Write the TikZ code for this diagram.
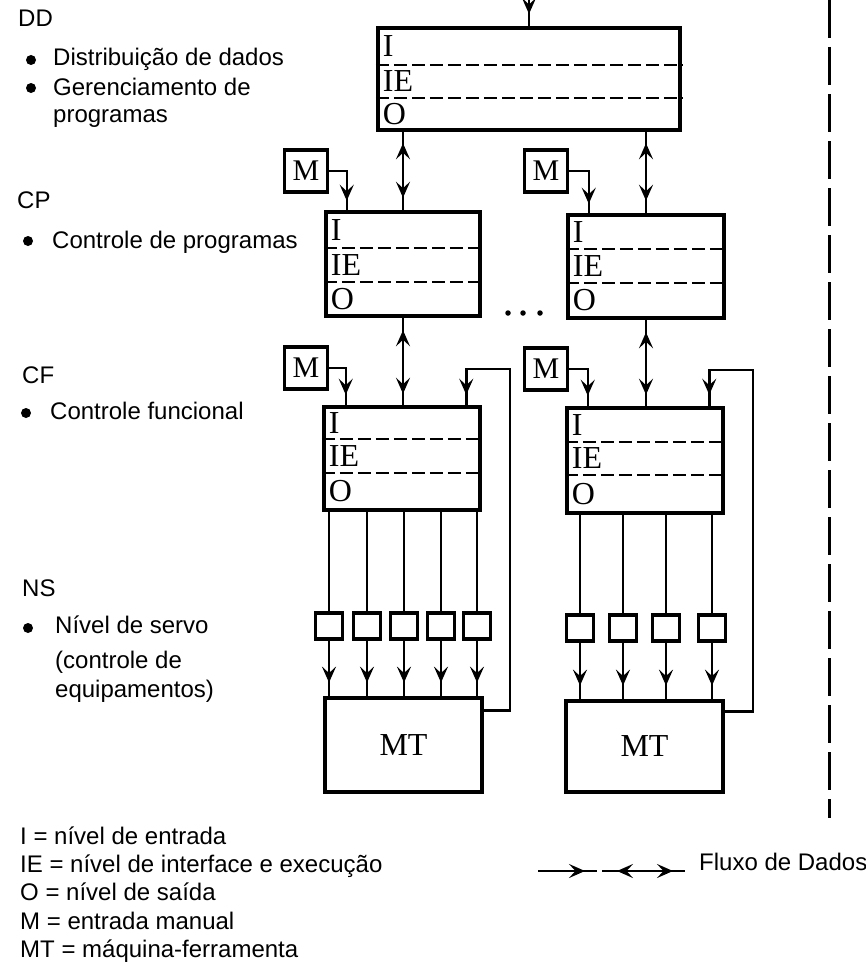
\documentclass[tikz,border=0pt]{standalone}
\usepackage{fontspec}
\setmainfont{Liberation Sans}
\newfontfamily\serifbox{Liberation Serif}
\usetikzlibrary{arrows.meta,decorations.markings,fit}

\tikzset{
  levelbox/.style={draw, line width=4.5pt, inner sep=0pt},
  rowdash/.style={line width=2.4pt, dash pattern=on 13pt off 5pt},
  lvl/.style={font=\serifbox\fontsize{32}{32}\selectfont, inner sep=0pt, anchor=west, xshift=7pt},
  mbox/.style={draw, line width=3.8pt, minimum width=43pt, minimum height=42pt, inner sep=0pt,
    font=\serifbox\fontsize{30}{30}\selectfont},
  servo/.style={draw, line width=3.2pt, minimum width=27pt, minimum height=26pt, inner sep=0pt},
  mtbox/.style={draw, line width=4.8pt, inner sep=0pt},
  mtlabel/.style={font=\serifbox\fontsize{32}{32}\selectfont, inner sep=0pt},
  wire/.style={line width=2.5pt},
  tipat/.style={postaction={decorate},
    decoration={markings, mark=at position #1 with {\arrow{>}}}},
  tipboth/.style 2 args={postaction={decorate},
    decoration={markings, mark=at position #1 with {\arrowreversed{>}},
                           mark=at position #2 with {\arrow{>}}}},
  txt/.style={font=\fontsize{24}{28}\selectfont, inner sep=0pt, anchor=base west},
  bullet/.style={circle, fill, inner sep=0pt, minimum size=10pt},
  dotmark/.style={circle, fill, inner sep=0pt, minimum size=5.5pt},
  separator/.style={line width=3pt, dash pattern=on 38pt off 9pt},
}

% box with the three levels I / IE / O
% #1 name, #2 left, #3 top, #4 right, #5 bottom, #6 first dash, #7 second dash
\newcommand\levelunit[7]{%
  \coordinate (#1-a) at (#2,#3);
  \coordinate (#1-b) at (#4,#5);
  \node[levelbox, fit=(#1-a)(#1-b)] (#1) {};
  \draw[rowdash] (#1.west |- 0,#6) -- (#1.east |- 0,#6);
  \draw[rowdash] (#1.west |- 0,#7) -- (#1.east |- 0,#7);
  \path (#1.west |- 0,{(#3+#6)/2}) node[lvl] {I};
  \path (#1.west |- 0,{(#6+#7)/2}) node[lvl] {IE};
  \path (#1.west |- 0,{(#7+#5)/2}) node[lvl] {O};
}

\begin{document}
\begin{tikzpicture}[x=1pt, y=-1pt, >={Stealth[length=16pt,width=14pt,inset=6.5pt]}]
\useasboundingbox[fill=white] (0,0) rectangle (866,966);

% ---------- level boxes ----------
\levelunit{dd}{378}{28}{680}{130}{65}{98}
\levelunit{cpL}{326}{212}{480}{316}{248}{282}
\levelunit{cpR}{568}{215}{724}{318}{249}{283}
\levelunit{cfL}{324}{407}{480}{510}{439}{473}
\levelunit{cfR}{567}{408}{723}{513}{442}{475}

% ---------- manual input boxes ----------
\node[mbox] (mcpL) at (306,171) {M};
\node[mbox] (mcpR) at (546,171) {M};
\node[mbox] (mcfL) at (306,368) {M};
\node[mbox] (mcfR) at (546,369) {M};

% ---------- servo boxes ----------
\node[servo] (sL1) at (329,626) {};
\node[servo] (sL2) at (367,626) {};
\node[servo] (sL3) at (404,626) {};
\node[servo] (sL4) at (441,626) {};
\node[servo] (sL5) at (477,626) {};
\node[servo] (sR1) at (580,628) {};
\node[servo] (sR2) at (623,628) {};
\node[servo] (sR3) at (666,628) {};
\node[servo] (sR4) at (712,628) {};

% ---------- machine tools ----------
\coordinate (mtL-a) at (325,698);
\coordinate (mtL-b) at (482,792);
\node[mtbox, fit=(mtL-a)(mtL-b)] (mtL) {};
\node[mtlabel] (mtLt) at (mtL.center) {MT};
\coordinate (mtR-a) at (566,701);
\coordinate (mtR-b) at (723,792);
\node[mtbox, fit=(mtR-a)(mtR-b)] (mtR) {};
\node[mtlabel] (mtRt) at (mtR.center) {MT};

% ---------- data flow ----------
\coordinate (feed) at (529,0);
\draw[wire, tipat=14pt] (feed) -- (feed |- dd.north);

\draw[wire, tipboth={11pt}{-12pt}] (dd.south -| cpL.north) -- (cpL.north);
\draw[wire, tipboth={11pt}{-12pt}] (dd.south -| cpR.north) -- (cpR.north);
\draw[wire, tipboth={12pt}{-11pt}] (cpL.south) -- (cfL.north -| cpL.south);
\draw[wire, tipboth={12pt}{-11pt}] (cpR.south) -- (cfR.north -| cpR.south);

% manual inputs
\draw[wire, tipat=-9pt] (mcpL.east) -| ([xshift=23pt]cpL.north west);
\draw[wire, tipat=-9pt] (mcpR.east) -| ([xshift=23pt]cpR.north west);
\draw[wire, tipat=-10pt] (mcfL.east) -| ([xshift=24pt]cfL.north west);
\draw[wire, tipat=-10pt] (mcfR.east) -| ([xshift=23pt]cfR.north west);

% feedback from the machine tools
\coordinate (fbL) at (510,369);
\coordinate (fbR) at (753,370);
\draw[wire, tipat=-10pt] ([yshift=-15pt]mtL.north east) -| (fbL) -| ([xshift=-16pt]cfL.north east);
\draw[wire, tipat=-11pt] ([yshift=-13pt]mtR.north east) -| (fbR) -| ([xshift=-16pt]cfR.north east);

% outputs to the servo level and on to the machines
\foreach \s in {sL1,sL2,sL3,sL4,sL5}{
  \draw[wire] (cfL.south -| \s.north) -- (\s.north);
  \draw[wire, tipat=-13pt] (\s.south) -- (\s.south |- mtL.north);
}
\foreach \s in {sR1,sR2,sR3,sR4}{
  \draw[wire] (cfR.south -| \s.north) -- (\s.north);
  \draw[wire, tipat=-13pt] (\s.south) -- (\s.south |- mtR.north);
}

% ellipsis between the columns
\node[dotmark] (el1) at (508,313) {};
\node[dotmark] (el2) at (523,313) {};
\node[dotmark] (el3) at (540,313) {};

% separator
\coordinate (sepTop) at (829,0);
\coordinate (sepBot) at (829,818);
\draw[separator] (sepTop) -- (sepBot);

% ---------- level descriptions ----------
\node[txt] (hDD) at (18,27) {DD};
\node[bullet] (b1) at (31,60) {};
\node[txt] (tDD1) at (53,66) {Distribuição de dados};
\node[bullet] (b2) at (31,88) {};
\node[txt] (tDD2) at (53,95) {Gerenciamento de};
\node[txt] (tDD3) at (53,122) {programas};

\node[txt] (hCP) at (17,208) {CP};
\node[bullet] (b3) at (28,241) {};
\node[txt] (tCP) at (52,248) {Controle de programas};

\node[txt] (hCF) at (22,383) {CF};
\node[bullet] (b4) at (26,413) {};
\node[txt] (tCF) at (50,419) {Controle funcional};

\node[txt] (hNS) at (22,596) {NS};
\node[bullet] (b5) at (28,628) {};
\node[txt] (tNS1) at (55,633) {Nível de servo};
\node[txt] (tNS2) at (55,668) {(controle de};
\node[txt] (tNS3) at (55,697) {equipamentos)};

% ---------- legend ----------
\node[txt] (lg1) at (20,844) {I = nível de entrada};
\node[txt] (lg2) at (20,872) {IE = nível de interface e execução};
\node[txt] (lg3) at (20,900) {O = nível de saída};
\node[txt] (lg4) at (20,929) {M = entrada manual};
\node[txt] (lg5) at (20,957) {MT = máquina-ferramenta};

\coordinate (fa1) at (538,871);
\coordinate (fa2) at (597,871);
\coordinate (fb1) at (602,871);
\coordinate (fb2) at (685,871);
\draw[wire, tipat=-12pt] (fa1) -- (fa2);
\draw[wire, tipboth={15pt}{-12pt}] (fb1) -- (fb2);
\node[txt] (flux) at (699,870) {Fluxo de Dados};
\end{tikzpicture}
\end{document}
